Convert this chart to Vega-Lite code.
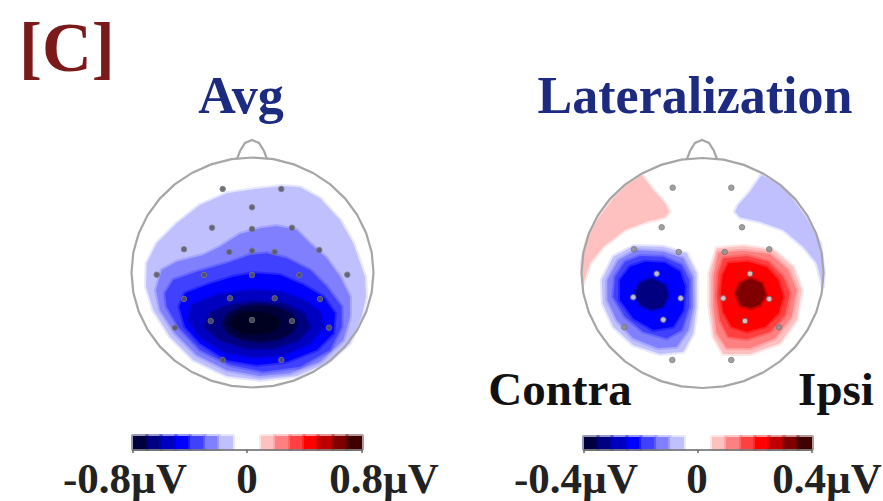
{"$schema":"https://vega.github.io/schema/vega-lite/v6.json","width":883,"height":501,"padding":0,"autosize":{"type":"none"},"background":"white","config":{"view":{"stroke":null}},"projection":{"type":"identity","scale":1,"translate":[0,0]},
"resolve":{"scale":{"color":"independent","stroke":"independent"}},
"datasets":{
"fills":[
{"type":"Feature","properties":{"v":-1,"map":"avg"},"geometry":{"type":"Polygon","coordinates":[[[281.7,186],[300,187.3],[320,198.3],[340,220],[353.3,243.3],[365,276.7],[366,296.7],[361.7,316.7],[350,343.3],[326.7,363.3],[296.7,376],[260,380],[226.7,376],[193.3,360],[170,336.7],[153.3,310],[146,286.7],[146.7,263.3],[156.7,243.3],[176.7,223.3],[200,205],[226.7,193.3],[253.3,189.3],[281.7,186]]]}},
{"type":"Feature","properties":{"v":-2,"map":"avg"},"geometry":{"type":"Polygon","coordinates":[[[276.7,226],[296.7,230],[310,243.3],[326.7,258.3],[340,276.7],[350,296.7],[350,316.7],[343.3,340],[320,361.7],[290,373.3],[260,376],[226.7,370],[196.7,355],[175,333.3],[160,310],[156,290],[161.7,270],[176.7,261.7],[203.3,255],[220,246.7],[240,234],[260,228.3],[276.7,226]]]}},
{"type":"Feature","properties":{"v":-3,"map":"avg"},"geometry":{"type":"Polygon","coordinates":[[[266.7,253.3],[286.7,258.3],[310,270],[326.7,286.7],[341.7,306.7],[341.7,326.7],[330,350],[300,366.7],[263.3,371.7],[230,365],[200,350],[178.3,326.7],[166.7,306.7],[165,293.3],[173.3,280],[196.7,271.7],[226.7,263.3],[250,255],[266.7,253.3]]]}},
{"type":"Feature","properties":{"v":-4,"map":"avg"},"geometry":{"type":"Polygon","coordinates":[[[253.3,273.3],[280,275],[303.3,285],[323.3,296.7],[335,313.3],[333.3,333.3],[316.7,350],[286.7,361.7],[256.7,365],[226.7,360],[200,343.3],[185,326.7],[179.3,306.7],[185,293.3],[206.7,285],[233.3,276.7],[253.3,273.3]]]}},
{"type":"Feature","properties":{"v":-5,"map":"avg"},"geometry":{"type":"Polygon","coordinates":[[[253.3,290],[280,291.7],[303.3,300],[320,311.7],[323.3,326.7],[310,343.3],[283.3,355],[253.3,357.3],[223.3,351.7],[200,336.7],[188.3,320],[191.7,305],[216.7,295],[253.3,290]]]}},
{"type":"Feature","properties":{"v":-6,"map":"avg"},"geometry":{"type":"Polygon","coordinates":[[[253.3,301.7],[283.3,303.3],[303.3,313.3],[310,326.7],[298.3,340],[273.3,348.3],[246.7,348.3],[220,340],[205,326.7],[210,313.3],[230,305],[253.3,301.7]]]}},
{"type":"Feature","properties":{"v":-7,"map":"avg"},"geometry":{"type":"Polygon","coordinates":[[[297,323.3],[292,332.6],[278.5,339.3],[260,341.8],[241.5,339.3],[228,332.6],[223,323.3],[228,314],[241.5,307.3],[260,304.8],[278.5,307.3],[292,314],[297,323.3]]]}},
{"type":"Feature","properties":{"v":-8,"map":"avg"},"geometry":{"type":"Polygon","coordinates":[[[280,323],[276,329],[267,333],[255,334],[243,333],[234,329],[230,323],[234,317],[243,313],[255,312],[267,313],[276,317],[280,323]]]}},
{"type":"Feature","properties":{"v":1,"map":"lat"},"geometry":{"type":"Polygon","coordinates":[[[641.7,175],[653.3,190],[665,203.3],[669.3,211.7],[665,217.3],[646.7,221.7],[625,230],[603.3,246.7],[590,263.3],[583.3,283.3],[581.7,263],[586.7,240],[598.3,218.3],[613.3,198.3],[626.7,185],[641.7,175]]]}},
{"type":"Feature","properties":{"v":-1,"map":"lat"},"geometry":{"type":"Polygon","coordinates":[[[761.7,175],[750,191.7],[738.3,205],[735,211.7],[740,217.3],[760,221.7],[783.3,230],[803.3,246.7],[816.7,263.3],[822.7,286.7],[824,273],[820,243.3],[806.7,218.3],[790,195],[776.7,183.3],[761.7,175]]]}},
{"type":"Feature","properties":{"v":-1,"map":"lat"},"geometry":{"type":"Polygon","coordinates":[[[633.3,246],[663.3,246.7],[686.7,253.3],[696.7,273.3],[696.7,306.7],[693.3,333.3],[683.3,351.7],[660,354],[633.3,345],[613.3,326.7],[602.7,303.3],[601.7,280],[613.3,256.7],[633.3,246]]]}},
{"type":"Feature","properties":{"v":-2,"map":"lat"},"geometry":{"type":"Polygon","coordinates":[[[636.7,250],[663.3,251.7],[683.3,258.3],[692.7,276.7],[693.3,306.7],[688.3,330],[676.7,346.7],[658.3,348.3],[633.3,338.3],[616.7,320],[607.3,300],[607.3,280],[618.3,260],[636.7,250]]]}},
{"type":"Feature","properties":{"v":-3,"map":"lat"},"geometry":{"type":"Polygon","coordinates":[[[640,256],[663.3,256.7],[681.7,265],[689.3,280],[689.3,306.7],[681.7,330],[666.7,338.3],[643.3,331.7],[625,316.7],[613.3,296.7],[615,276.7],[625,261.7],[640,256]]]}},
{"type":"Feature","properties":{"v":-4,"map":"lat"},"geometry":{"type":"Polygon","coordinates":[[[645,261.7],[665,262.7],[680,271.7],[685,286.7],[683.3,310],[673.3,326.7],[653.3,330],[633.3,318.3],[620,300],[620,280],[630,266.7],[645,261.7]]]}},
{"type":"Feature","properties":{"v":-6,"map":"lat"},"geometry":{"type":"Polygon","coordinates":[[[651.7,278.3],[665,285],[668.3,295],[663.3,306.7],[651.7,310],[640,305],[635,293.3],[640,282.7],[651.7,278.3]]]}},
{"type":"Feature","properties":{"v":1,"map":"lat"},"geometry":{"type":"Polygon","coordinates":[[[716.7,248.3],[743.3,246],[773.3,250],[793.3,266.7],[801.7,290],[796.7,320],[780,343.3],[750,354],[723.3,354],[713.3,336.7],[709.3,306.7],[709.3,273.3],[716.7,248.3]]]}},
{"type":"Feature","properties":{"v":2,"map":"lat"},"geometry":{"type":"Polygon","coordinates":[[[718.3,252.7],[743.3,250.7],[770,254],[788.3,270],[796.7,290],[791.7,316.7],[775,338.3],[750,348.3],[726.7,348.3],[716.7,333.3],[713.3,306.7],[713.3,276.7],[718.3,252.7]]]}},
{"type":"Feature","properties":{"v":3,"map":"lat"},"geometry":{"type":"Polygon","coordinates":[[[723.3,258.3],[746.7,256],[768.3,261.7],[783.3,276.7],[790,293.3],[785,315],[770,331.7],[746.7,339.3],[728.3,336.7],[720,320],[716.7,296.7],[718.3,273.3],[723.3,258.3]]]}},
{"type":"Feature","properties":{"v":4,"map":"lat"},"geometry":{"type":"Polygon","coordinates":[[[728.3,263.3],[748.3,261.7],[766.7,267.3],[778.3,280],[783.3,296.7],[778.3,313.3],[765,326.7],[746.7,331.7],[731.7,326.7],[723.3,311.7],[720.7,293.3],[722.7,275],[728.3,263.3]]]}},
{"type":"Feature","properties":{"v":6,"map":"lat"},"geometry":{"type":"Polygon","coordinates":[[[750,278.3],[761.7,283.3],[766,295],[760,305],[750,308.3],[740,305],[735.7,293.3],[740,283.3],[750,278.3]]]}},
{"type":"Feature","properties":{"v":-7,"map":"bar"},"geometry":{"type":"Polygon","coordinates":[[[133,436],[147,436],[147,449],[133,449],[133,436]]]}},
{"type":"Feature","properties":{"v":-6,"map":"bar"},"geometry":{"type":"Polygon","coordinates":[[[147,436],[161,436],[161,449],[147,449],[147,436]]]}},
{"type":"Feature","properties":{"v":-5,"map":"bar"},"geometry":{"type":"Polygon","coordinates":[[[161,436],[176,436],[176,449],[161,449],[161,436]]]}},
{"type":"Feature","properties":{"v":-4,"map":"bar"},"geometry":{"type":"Polygon","coordinates":[[[176,436],[190,436],[190,449],[176,449],[176,436]]]}},
{"type":"Feature","properties":{"v":-3,"map":"bar"},"geometry":{"type":"Polygon","coordinates":[[[190,436],[205,436],[205,449],[190,449],[190,436]]]}},
{"type":"Feature","properties":{"v":-2,"map":"bar"},"geometry":{"type":"Polygon","coordinates":[[[205,436],[219,436],[219,449],[205,449],[205,436]]]}},
{"type":"Feature","properties":{"v":-1,"map":"bar"},"geometry":{"type":"Polygon","coordinates":[[[219,436],[233,436],[233,449],[219,449],[219,436]]]}},
{"type":"Feature","properties":{"v":1,"map":"bar"},"geometry":{"type":"Polygon","coordinates":[[[261,436],[275,436],[275,449],[261,449],[261,436]]]}},
{"type":"Feature","properties":{"v":2,"map":"bar"},"geometry":{"type":"Polygon","coordinates":[[[275,436],[290,436],[290,449],[275,449],[275,436]]]}},
{"type":"Feature","properties":{"v":3,"map":"bar"},"geometry":{"type":"Polygon","coordinates":[[[290,436],[304,436],[304,449],[290,449],[290,436]]]}},
{"type":"Feature","properties":{"v":4,"map":"bar"},"geometry":{"type":"Polygon","coordinates":[[[304,436],[318,436],[318,449],[304,449],[304,436]]]}},
{"type":"Feature","properties":{"v":5,"map":"bar"},"geometry":{"type":"Polygon","coordinates":[[[318,436],[333,436],[333,449],[318,449],[318,436]]]}},
{"type":"Feature","properties":{"v":6,"map":"bar"},"geometry":{"type":"Polygon","coordinates":[[[333,436],[347,436],[347,449],[333,449],[333,436]]]}},
{"type":"Feature","properties":{"v":7,"map":"bar"},"geometry":{"type":"Polygon","coordinates":[[[347,436],[362,436],[362,449],[347,449],[347,436]]]}},
{"type":"Feature","properties":{"v":-7,"map":"bar"},"geometry":{"type":"Polygon","coordinates":[[[584,437],[598,437],[598,449],[584,449],[584,437]]]}},
{"type":"Feature","properties":{"v":-6,"map":"bar"},"geometry":{"type":"Polygon","coordinates":[[[598,437],[612,437],[612,449],[598,449],[598,437]]]}},
{"type":"Feature","properties":{"v":-5,"map":"bar"},"geometry":{"type":"Polygon","coordinates":[[[612,437],[627,437],[627,449],[612,449],[612,437]]]}},
{"type":"Feature","properties":{"v":-4,"map":"bar"},"geometry":{"type":"Polygon","coordinates":[[[627,437],[641,437],[641,449],[627,449],[627,437]]]}},
{"type":"Feature","properties":{"v":-3,"map":"bar"},"geometry":{"type":"Polygon","coordinates":[[[641,437],[656,437],[656,449],[641,449],[641,437]]]}},
{"type":"Feature","properties":{"v":-2,"map":"bar"},"geometry":{"type":"Polygon","coordinates":[[[656,437],[670,437],[670,449],[656,449],[656,437]]]}},
{"type":"Feature","properties":{"v":-1,"map":"bar"},"geometry":{"type":"Polygon","coordinates":[[[670,437],[684,437],[684,449],[670,449],[670,437]]]}},
{"type":"Feature","properties":{"v":1,"map":"bar"},"geometry":{"type":"Polygon","coordinates":[[[712,437],[726,437],[726,449],[712,449],[712,437]]]}},
{"type":"Feature","properties":{"v":2,"map":"bar"},"geometry":{"type":"Polygon","coordinates":[[[726,437],[741,437],[741,449],[726,449],[726,437]]]}},
{"type":"Feature","properties":{"v":3,"map":"bar"},"geometry":{"type":"Polygon","coordinates":[[[741,437],[755,437],[755,449],[741,449],[741,437]]]}},
{"type":"Feature","properties":{"v":4,"map":"bar"},"geometry":{"type":"Polygon","coordinates":[[[755,437],[769,437],[769,449],[755,449],[755,437]]]}},
{"type":"Feature","properties":{"v":5,"map":"bar"},"geometry":{"type":"Polygon","coordinates":[[[769,437],[784,437],[784,449],[769,449],[769,437]]]}},
{"type":"Feature","properties":{"v":6,"map":"bar"},"geometry":{"type":"Polygon","coordinates":[[[784,437],[798,437],[798,449],[784,449],[784,437]]]}},
{"type":"Feature","properties":{"v":7,"map":"bar"},"geometry":{"type":"Polygon","coordinates":[[[798,437],[812,437],[812,449],[798,449],[798,437]]]}}
],
"heads":[
{"type":"Feature","properties":{"name":"avg head"},"geometry":{"type":"LineString","coordinates":[[373.5,272.5],[371.7,292.5],[366.2,311.8],[357.3,330],[345.2,346.4],[330.3,360.6],[313,372.1],[293.9,380.6],[273.5,385.8],[252.5,387.5],[231.5,385.8],[211.1,380.6],[192,372.1],[174.7,360.6],[159.8,346.4],[147.7,330],[138.8,311.8],[133.3,292.5],[131.5,272.5],[133.3,252.5],[138.8,233.2],[147.7,215],[159.8,198.6],[174.7,184.4],[192,172.9],[211.1,164.4],[231.5,159.2],[252.5,157.5],[273.5,159.2],[293.9,164.4],[313,172.9],[330.3,184.4],[345.2,198.6],[357.3,215],[366.2,233.2],[371.7,252.5],[373.5,272.5]]}},
{"type":"Feature","properties":{"name":"avg nose"},"geometry":{"type":"LineString","coordinates":[[237,159],[240,151],[245,143],[252,140],[259,143],[264,151],[267,159]]}},
{"type":"Feature","properties":{"name":"lat head"},"geometry":{"type":"LineString","coordinates":[[823.5,273],[821.7,293],[816.2,312.3],[807.3,330.5],[795.2,346.9],[780.3,361.1],[763,372.6],[743.9,381.1],[723.5,386.3],[702.5,388],[681.5,386.3],[661.1,381.1],[642,372.6],[624.7,361.1],[609.8,346.9],[597.7,330.5],[588.8,312.3],[583.3,293],[581.5,273],[583.3,253],[588.8,233.7],[597.7,215.5],[609.8,199.1],[624.7,184.9],[642,173.4],[661.1,164.9],[681.5,159.7],[702.5,158],[723.5,159.7],[743.9,164.9],[763,173.4],[780.3,184.9],[795.2,199.1],[807.3,215.5],[816.2,233.7],[821.7,253],[823.5,273]]}},
{"type":"Feature","properties":{"name":"lat nose"},"geometry":{"type":"LineString","coordinates":[[687,159],[690,151],[695,143],[702,140],[709,143],[714,151],[717,159]]}}
],
"barAxes":[
{"type":"Feature","properties":{"name":"avg axis"},"geometry":{"type":"LineString","coordinates":[[133,453],[133,450],[362,450],[362,453]]}},
{"type":"Feature","properties":{"name":"avg tick"},"geometry":{"type":"LineString","coordinates":[[247,450],[247,453]]}},
{"type":"Feature","properties":{"name":"lat axis"},"geometry":{"type":"LineString","coordinates":[[584,453],[584,450],[812,450],[812,453]]}},
{"type":"Feature","properties":{"name":"lat tick"},"geometry":{"type":"LineString","coordinates":[[698,450],[698,453]]}}
],
"electrodes":[
{"x":222.7,"y":189,"g":"dark"},{"x":281.3,"y":189,"g":"dark"},{"x":252,"y":207.3,"g":"dark"},{"x":212,"y":227.7,"g":"dark"},{"x":252,"y":229,"g":"dark"},{"x":292,"y":227.7,"g":"dark"},{"x":184,"y":249.3,"g":"dark"},{"x":229.3,"y":252,"g":"dark"},{"x":252,"y":250.7,"g":"dark"},{"x":274.7,"y":252,"g":"dark"},{"x":319.3,"y":250,"g":"dark"},{"x":156.7,"y":274.7,"g":"dark"},{"x":204,"y":275,"g":"dark"},{"x":252,"y":275,"g":"dark"},{"x":299.3,"y":275,"g":"dark"},{"x":347.3,"y":274.7,"g":"dark"},{"x":184,"y":299,"g":"dark"},{"x":230,"y":298.3,"g":"dark"},{"x":274.7,"y":298.3,"g":"dark"},{"x":320,"y":299,"g":"dark"},{"x":175,"y":327.7,"g":"dark"},{"x":210.7,"y":321,"g":"dark"},{"x":252,"y":320,"g":"dark"},{"x":292,"y":321,"g":"dark"},{"x":329,"y":327.7,"g":"dark"},{"x":222.7,"y":360,"g":"dark"},{"x":281.3,"y":360,"g":"dark"},
{"x":672.7,"y":187.7,"g":"gray"},{"x":731.3,"y":187.7,"g":"gray"},{"x":661.7,"y":227.3,"g":"gray"},{"x":742,"y":227.3,"g":"gray"},{"x":634,"y":249.3,"g":"gray"},{"x":678.7,"y":252,"g":"gray"},{"x":724.7,"y":252,"g":"gray"},{"x":769.3,"y":249.3,"g":"gray"},{"x":656.7,"y":273.7,"g":"light"},{"x":750,"y":273.7,"g":"light"},{"x":633.3,"y":297.3,"g":"light"},{"x":680.7,"y":298.3,"g":"light"},{"x":723.3,"y":298.3,"g":"light"},{"x":769.3,"y":299,"g":"light"},{"x":663.3,"y":319.7,"g":"light"},{"x":745,"y":321,"g":"light"},{"x":624.3,"y":327.3,"g":"gray"},{"x":779,"y":327.3,"g":"gray"},{"x":672.3,"y":360,"g":"gray"},{"x":731.3,"y":360,"g":"gray"}
]
},
"layer":[
{"data":{"name":"fills"},"mark":{"type":"geoshape","strokeWidth":4,"strokeOpacity":0.4,"strokeJoin":"round"},"encoding":{"color":{"field":"properties.v","type":"ordinal","legend":null,"scale":{"domain":[-8,-7,-6,-5,-4,-3,-2,-1,1,2,3,4,5,6,7],"range":["#000020","#000040","#000080","#0000c0","#0000ff","#4040ff","#8080ff","#c0c0ff","#ffc0c0","#ff8080","#ff4040","#ff0000","#c00000","#800000","#400000"]}},"stroke":{"field":"properties.v","type":"ordinal","legend":null,"scale":{"domain":[-8,-7,-6,-5,-4,-3,-2,-1,1,2,3,4,5,6,7],"range":["#000020","#000040","#000080","#0000c0","#0000ff","#4040ff","#8080ff","#c0c0ff","#ffc0c0","#ff8080","#ff4040","#ff0000","#c00000","#800000","#400000"]}}}},
{"data":{"name":"heads"},"mark":{"type":"geoshape","filled":false,"fill":null,"stroke":"#a6a6a6","strokeWidth":2.2}},
{"data":{"name":"barAxes"},"mark":{"type":"geoshape","filled":false,"fill":null,"stroke":"#666666","strokeWidth":1.5}},
{"data":{"name":"electrodes"},"mark":{"type":"circle","size":30,"stroke":"#777777","strokeWidth":1,"opacity":0.85},"encoding":{"longitude":{"field":"x","type":"quantitative"},"latitude":{"field":"y","type":"quantitative"},"color":{"field":"g","type":"nominal","legend":null,"scale":{"domain":["dark","gray","light"],"range":["#555566","#909090","#dddddd"]}}}},
{"data":{"values":[{"x":19,"y":71,"t":"[C]"}]},"mark":{"type":"text","font":"Liberation Serif","fontWeight":"bold","fontSize":69,"align":"left","baseline":"alphabetic","color":"#7b1a1a"},"encoding":{"longitude":{"field":"x","type":"quantitative"},"latitude":{"field":"y","type":"quantitative"},"text":{"field":"t"}}},
{"data":{"values":[{"x":241,"y":113,"t":"Avg"},{"x":695,"y":113,"t":"Lateralization"}]},"mark":{"type":"text","font":"Liberation Serif","fontWeight":"bold","fontSize":52,"align":"center","baseline":"alphabetic","color":"#1c2a80"},"encoding":{"longitude":{"field":"x","type":"quantitative"},"latitude":{"field":"y","type":"quantitative"},"text":{"field":"t"}}},
{"data":{"values":[{"x":560,"y":405,"t":"Contra"},{"x":836,"y":405,"t":"Ipsi"}]},"mark":{"type":"text","font":"Liberation Serif","fontWeight":"bold","fontSize":47,"align":"center","baseline":"alphabetic","color":"#111111"},"encoding":{"longitude":{"field":"x","type":"quantitative"},"latitude":{"field":"y","type":"quantitative"},"text":{"field":"t"}}},
{"data":{"values":[{"x":125,"y":493,"t":"-0.8µV"},{"x":247,"y":493,"t":"0"},{"x":384,"y":493,"t":"0.8µV"},{"x":576,"y":493,"t":"-0.4µV"},{"x":697,"y":493,"t":"0"},{"x":827,"y":493,"t":"0.4µV"}]},"mark":{"type":"text","font":"Liberation Serif","fontWeight":"bold","fontSize":43,"align":"center","baseline":"alphabetic","color":"#222222"},"encoding":{"longitude":{"field":"x","type":"quantitative"},"latitude":{"field":"y","type":"quantitative"},"text":{"field":"t"}}}
]}
